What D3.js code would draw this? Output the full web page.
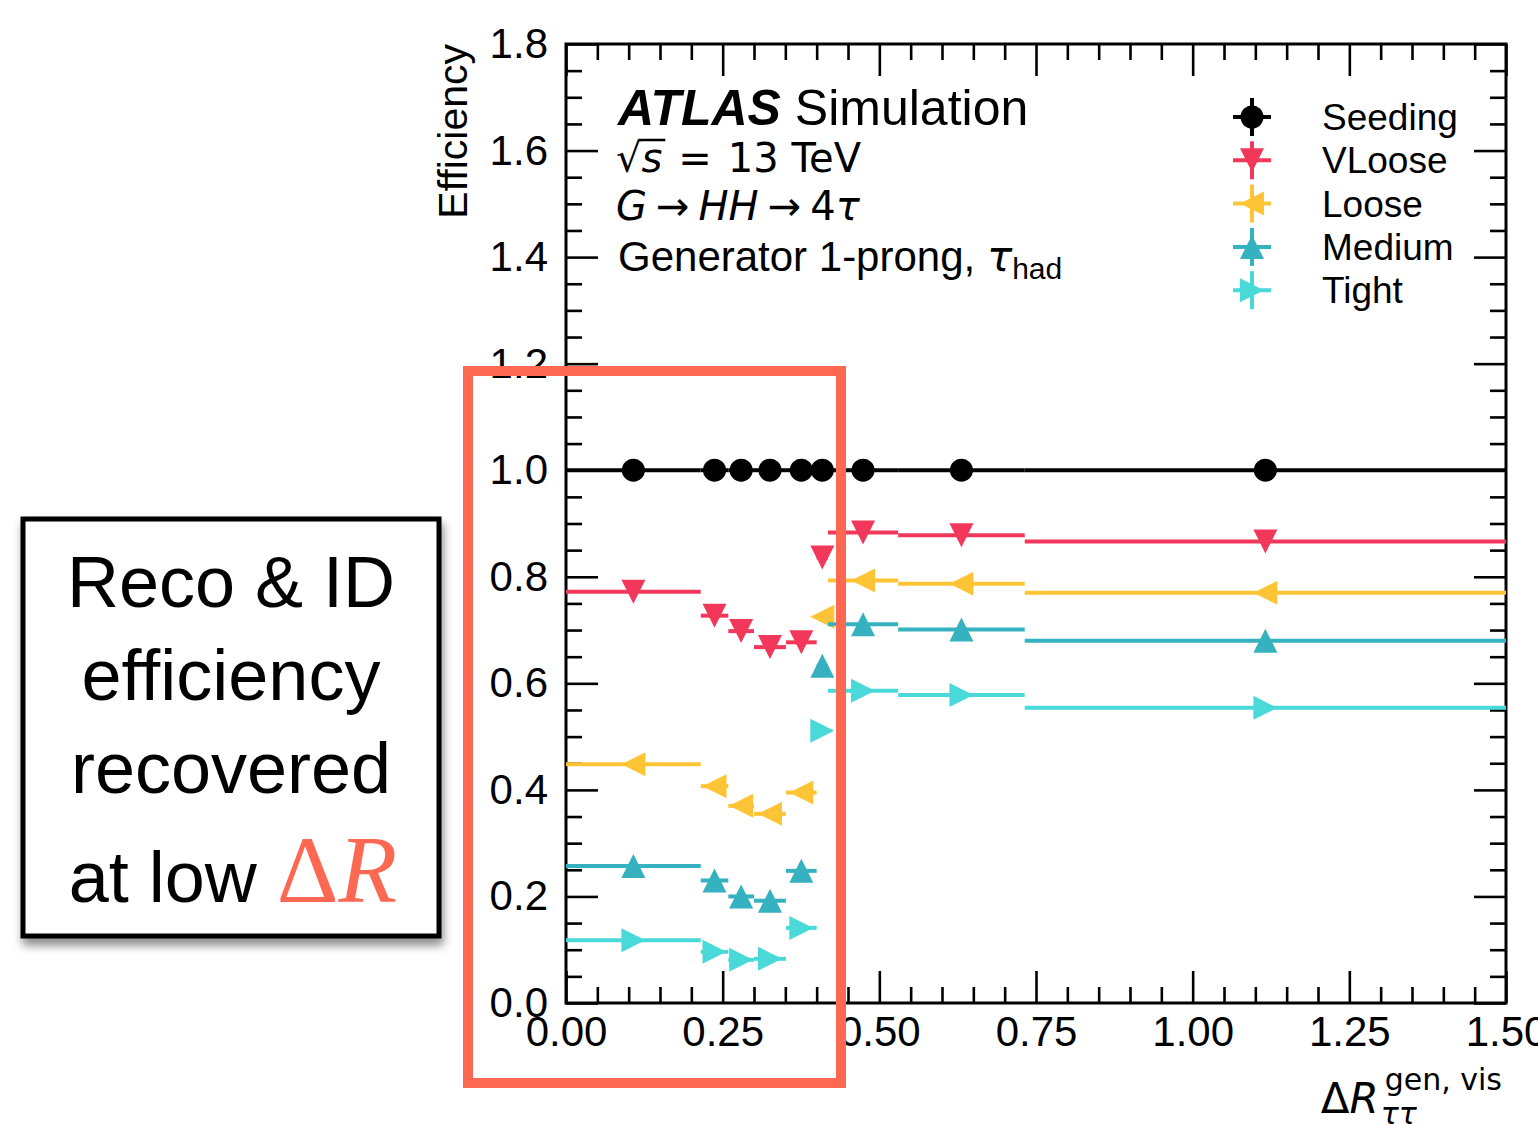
<!DOCTYPE html>
<html>
<head>
<meta charset="utf-8">
<script src="https://cdn.jsdelivr.net/npm/d3@7"></script>
<style>
  body { margin: 0; background: #fff; }
</style>
</head>
<body>
<script>
// bin edges in dR(tau,tau) and efficiency per bin
const binEdges = [0, 0.215, 0.259, 0.300, 0.351, 0.400, 0.418, 0.530, 0.732, 1.5]
const seeding = [1.0, 1.0, 1.0, 1.0, 1.0, 1.0, 1.0, 1.0, 1.0]
const vloose  = [0.772, 0.727, 0.698, 0.668, 0.677, 0.836, 0.883, 0.878, 0.866]
const loose   = [0.448, 0.407, 0.370, 0.355, 0.395, 0.725, 0.793, 0.787, 0.770]
const medium  = [0.257, 0.230, 0.200, 0.192, 0.248, 0.633, 0.711, 0.701, 0.680]
const tight   = [0.118, 0.096, 0.081, 0.083, 0.141, 0.511, 0.586, 0.578, 0.554]

const seriesNames = ["Seeding", "VLoose", "Loose", "Medium", "Tight"]
const seriesValues = [seeding, vloose, loose, medium, tight]
const colours = ["#000000", "#f2385a", "#fdc536", "#36b1bf", "#4ad9d9"]
const markers = ["circle", "down", "left", "up", "right"]

const yMajor = [0, 0.2, 0.4, 0.6, 0.8, 1.0, 1.2, 1.4, 1.6, 1.8]
const xMajor = [0, 0.25, 0.5, 0.75, 1.0, 1.25, 1.5]

const W = 1538, H = 1124
const pLeft = 566, pRight = 1506, pTop = 44, pBottom = 1003
const sans = "Liberation Sans, Arial, sans-serif"
const mathFont = "DejaVu Sans"
const serif = "Liberation Serif, Times New Roman, serif"

const svg = d3.select("body").append("svg")
    .attr("width", W).attr("height", H)
    .attr("font-family", sans)

const x = d3.scaleLinear().domain([0, 1.5]).range([pLeft, pRight])
const y = d3.scaleLinear().domain([0, 1.8]).range([pBottom, pTop])

const xMinor = d3.range(0, 1.5001, 0.05).filter(v => !xMajor.some(m => Math.abs(m - v) < 1e-6))
const yMinor = d3.range(0, 1.8001, 0.05).filter(v => !yMajor.some(m => Math.abs(m - v) < 1e-6))

// axes, ticks inward on all four sides
function styleAxis(g){
    g.select(".domain").remove()
    g.attr("font-family", sans).attr("font-size", 42)
    g.selectAll(".tick line").attr("stroke", "#000").attr("stroke-width", 2.6)
    g.selectAll(".tick text").attr("fill", "#000")
}
const fmtX = d3.format(".2f"), fmtY = d3.format(".1f")

svg.append("g").attr("transform", `translate(0,${pBottom})`)
    .call(d3.axisBottom(x).tickValues(xMajor).tickSize(-32).tickPadding(13).tickFormat(fmtX)).call(styleAxis)
svg.append("g").attr("transform", `translate(0,${pBottom})`)
    .call(d3.axisBottom(x).tickValues(xMinor).tickSize(-16).tickFormat("")).call(styleAxis)
svg.append("g").attr("transform", `translate(0,${pTop})`)
    .call(d3.axisTop(x).tickValues(xMajor).tickSize(-32).tickFormat("")).call(styleAxis)
svg.append("g").attr("transform", `translate(0,${pTop})`)
    .call(d3.axisTop(x).tickValues(xMinor).tickSize(-16).tickFormat("")).call(styleAxis)
svg.append("g").attr("transform", `translate(${pLeft},0)`)
    .call(d3.axisLeft(y).tickValues(yMajor).tickSize(-32).tickPadding(18).tickFormat(fmtY)).call(styleAxis)
svg.append("g").attr("transform", `translate(${pLeft},0)`)
    .call(d3.axisLeft(y).tickValues(yMinor).tickSize(-16).tickFormat("")).call(styleAxis)
svg.append("g").attr("transform", `translate(${pRight},0)`)
    .call(d3.axisRight(y).tickValues(yMajor).tickSize(-32).tickFormat("")).call(styleAxis)
svg.append("g").attr("transform", `translate(${pRight},0)`)
    .call(d3.axisRight(y).tickValues(yMinor).tickSize(-16).tickFormat("")).call(styleAxis)

svg.append("rect")
    .attr("x", pLeft).attr("y", pTop)
    .attr("width", pRight - pLeft).attr("height", pBottom - pTop)
    .attr("fill", "none").attr("stroke", "#000").attr("stroke-width", 3)

// marker shapes like matplotlib o v < ^ >
function markerPath(type, s){
    const h = s/2
    if(type == "down") return `M0,${h}L${-h},${-h}L${h},${-h}Z`
    if(type == "up") return `M0,${-h}L${-h},${h}L${h},${h}Z`
    if(type == "left") return `M${-h},0L${h},${-h}L${h},${h}Z`
    if(type == "right") return `M${h},0L${-h},${-h}L${-h},${h}Z`
    return d3.symbol(d3.symbolCircle, Math.PI*h*h*0.92)()
}

const bins = binEdges.slice(0, -1).map((lo, i) => ({lo: lo, hi: binEdges[i+1], mid: (lo + binEdges[i+1])/2}))

const plot = svg.append("g")
seriesValues.forEach((vals, si) => {
    const g = plot.append("g")
    g.selectAll("line").data(vals).join("line")
        .attr("x1", (d, i) => x(bins[i].lo))
        .attr("x2", (d, i) => x(bins[i].hi))
        .attr("y1", d => y(d)).attr("y2", d => y(d))
        .attr("stroke", colours[si]).attr("stroke-width", 4)
    g.selectAll("path").data(vals).join("path")
        .attr("d", markerPath(markers[si], 24))
        .attr("transform", (d, i) => `translate(${x(bins[i].mid)},${y(d)})`)
        .attr("fill", colours[si])
})

// legend
const legend = svg.append("g")
seriesNames.forEach((name, i) => {
    const ly = 117 + i*43.3
    const lg = legend.append("g").attr("transform", `translate(1252,${ly})`)
    lg.append("line").attr("x1", -19).attr("x2", 19).attr("y1", 0).attr("y2", 0)
        .attr("stroke", colours[i]).attr("stroke-width", 4)
    lg.append("line").attr("x1", 0).attr("x2", 0).attr("y1", -19).attr("y2", 19)
        .attr("stroke", colours[i]).attr("stroke-width", 4)
    lg.append("path").attr("d", markerPath(markers[i], 24)).attr("fill", colours[i])
    legend.append("text").attr("x", 1322).attr("y", ly + 13)
        .attr("font-size", 37).text(name)
})

// ATLAS label block
const t1 = svg.append("text").attr("x", 618).attr("y", 125).attr("font-size", 50)
t1.append("tspan").attr("font-weight", "bold").attr("font-style", "italic").text("ATLAS")
t1.append("tspan").text("\u00a0Simulation")

const rad = svg.append("text").attr("x", 616).attr("y", 172).attr("font-size", 40)
    .attr("font-family", mathFont).text("√")
const radW = rad.node().getComputedTextLength()
const sTxt = svg.append("text").attr("x", 616 + radW).attr("y", 172).attr("font-size", 40)
    .attr("font-family", mathFont).attr("font-style", "italic").text("s")
const sW = sTxt.node().getComputedTextLength()
svg.append("line").attr("x1", 616 + radW - 3).attr("x2", 616 + radW + sW + 3)
    .attr("y1", 140).attr("y2", 140).attr("stroke", "#000").attr("stroke-width", 2.5)
const eq = svg.append("text").attr("x", 616 + radW + sW + 16).attr("y", 172).attr("font-size", 40)
    .attr("font-family", mathFont)
eq.append("tspan").text("=")
eq.append("tspan").attr("dx", 16).text("13\u00a0TeV")

const t3 = svg.append("text").attr("x", 616).attr("y", 220).attr("font-size", 40).attr("font-family", mathFont)
t3.append("tspan").attr("font-style", "italic").text("G")
t3.append("tspan").attr("dx", 9).text("→")
t3.append("tspan").attr("dx", 9).attr("font-style", "italic").text("HH")
t3.append("tspan").attr("dx", 9).text("→")
t3.append("tspan").attr("dx", 9).text("4")
t3.append("tspan").attr("font-style", "italic").text("τ")

const t4 = svg.append("text").attr("x", 618).attr("y", 271).attr("font-size", 42)
t4.append("tspan").text("Generator 1-prong,\u00a0")
t4.append("tspan").attr("font-family", mathFont).attr("font-style", "italic").text("τ")
t4.append("tspan").attr("font-size", 30).attr("dy", 8).text("had")

// axis titles
svg.append("text")
    .attr("transform", "translate(467,44) rotate(-90)")
    .attr("text-anchor", "end").attr("font-size", 41).text("Efficiency")

const dr = svg.append("text").attr("y", 1113).attr("font-size", 42).attr("font-family", mathFont)
dr.append("tspan").text("Δ")
dr.append("tspan").attr("font-style", "italic").text("R")
const drW = dr.node().getComputedTextLength()
const sup = svg.append("text").attr("y", 1090).attr("font-size", 30).attr("font-family", mathFont).text("gen, vis")
const supW = sup.node().getComputedTextLength()
const xEnd = 1502
const drX = xEnd - supW - drW - 6
dr.attr("x", drX)
sup.attr("x", drX + drW + 6)
svg.append("text").attr("x", drX + drW + 2).attr("y", 1124).attr("font-size", 30)
    .attr("font-family", mathFont).attr("font-style", "italic").text("ττ")

// annotation box
const defs = svg.append("defs")
const f = defs.append("filter").attr("id", "shadow")
    .attr("x", "-10%").attr("y", "-10%").attr("width", "130%").attr("height", "130%")
f.append("feDropShadow").attr("dx", 2).attr("dy", 7).attr("stdDeviation", 5)
    .attr("flood-color", "#000").attr("flood-opacity", 0.45)

svg.append("rect").attr("x", 23).attr("y", 519).attr("width", 416).attr("height", 417)
    .attr("fill", "#fff").attr("stroke", "#000").attr("stroke-width", 5)
    .attr("filter", "url(#shadow)")

const noteX = 231
const noteLines = ["Reco & ID", "efficiency", "recovered"]
const noteY = [607, 700, 793]
noteLines.forEach((s, i) => {
    svg.append("text").attr("x", noteX).attr("y", noteY[i]).attr("text-anchor", "middle")
        .attr("font-size", 72).attr("fill", "#000").text(s)
})
const last = svg.append("text").attr("x", noteX + 2).attr("y", 902).attr("text-anchor", "middle")
    .attr("font-size", 72)
last.append("tspan").text("at low\u00a0")
last.append("tspan").attr("font-family", serif)
    .attr("font-size", 96).attr("fill", "#fd6853").text("Δ")
last.append("tspan").attr("font-family", serif)
    .attr("font-size", 96).attr("font-style", "italic").attr("fill", "#fd6853").text("R")

// highlight frame on the low dR region
svg.append("rect").attr("x", 468).attr("y", 371).attr("width", 373).attr("height", 712)
    .attr("fill", "none").attr("stroke", "#fd6853").attr("stroke-width", 10)
</script>
</body>
</html>
